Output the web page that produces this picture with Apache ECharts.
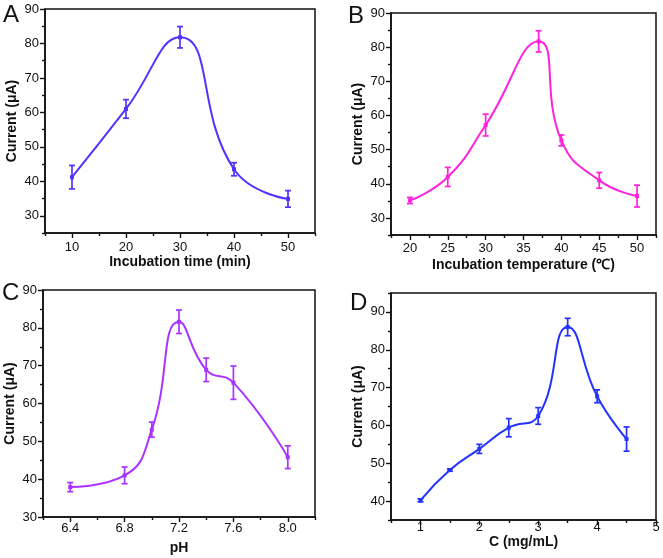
<!DOCTYPE html>
<html><head><meta charset="utf-8">
<script src="https://cdn.jsdelivr.net/npm/echarts@6/dist/echarts.min.js"></script>
<style>html,body{margin:0;padding:0;background:#fff}#c{width:663px;height:558px}</style>
</head><body><div id="c"></div>
<script>
// Panel A
const A_x = [10, 20, 30, 40, 50];
const A_y = [41.2, 61.0, 81.8, 43.5, 34.9];
const A_err = [3.4, 2.7, 3.1, 1.9, 2.4];
const A_xMajor = [10, 20, 30, 40, 50];
const A_xMinor = [5, 15, 25, 35, 45, 55];
const A_yMajor = [30, 40, 50, 60, 70, 80, 90];
const A_yMinor = [25, 35, 45, 55, 65, 75, 85];
// Panel B
const B_x = [20, 25, 30, 37, 40, 45, 50];
const B_y = [35.1, 42.0, 57.2, 81.7, 52.7, 41.0, 36.4];
const B_err = [0.9, 2.8, 3.2, 3.1, 1.6, 2.3, 3.2];
const B_xMajor = [20, 25, 30, 35, 40, 45, 50];
const B_xMinor = [17.5, 22.5, 27.5, 32.5, 37.5, 42.5, 47.5, 52.5];
const B_yMajor = [30, 40, 50, 60, 70, 80, 90];
const B_yMinor = [25, 35, 45, 55, 65, 75, 85];
// Panel C
const C_x = [6.4, 6.8, 7.0, 7.2, 7.4, 7.6, 8.0];
const C_y = [37.9, 41.0, 53.1, 81.6, 68.9, 65.5, 45.8];
const C_err = [1.2, 2.2, 2.0, 3.1, 3.1, 4.4, 3.0];
const C_xMajor = [6.4, 6.8, 7.2, 7.6, 8.0];
const C_xMinor = [6.2, 6.6, 7.0, 7.4, 7.8, 8.2];
const C_yMajor = [30, 40, 50, 60, 70, 80, 90];
const C_yMinor = [35, 45, 55, 65, 75, 85];
// Panel D
const D_x = [1, 1.5, 2, 2.5, 3, 3.5, 4, 4.5];
const D_y = [40.2, 48.2, 53.8, 59.4, 62.5, 86.0, 67.7, 56.4];
const D_err = [0.4, 0.3, 1.2, 2.4, 2.2, 2.3, 1.7, 3.2];
const D_xMajor = [1, 2, 3, 4, 5];
const D_xMinor = [0.5, 1.5, 2.5, 3.5, 4.5];
const D_yMajor = [40, 50, 60, 70, 80, 90];
const D_yMinor = [35, 45, 55, 65, 75, 85, 95];

const panels = [
  {x:A_x,y:A_y,e:A_err,xMaj:A_xMajor,xMin:A_xMinor,yMaj:A_yMajor,yMin:A_yMinor,
   xr:[5,55],yr:[25,90],color:'#5530ff',xname:'Incubation time (min)',letter:'A',
   grid:{left:45,top:9,width:270,height:224},xgap:20,xmargin:8,dec:0,lx:3,ly:3},
  {x:B_x,y:B_y,e:B_err,xMaj:B_xMajor,xMin:B_xMinor,yMaj:B_yMajor,yMin:B_yMinor,
   xr:[17.5,52.5],yr:[25,90],color:'#ff22dd',xname:'Incubation temperature (\u2103)',letter:'B',
   grid:{left:391,top:13,width:265,height:222},xgap:23,xmargin:7,dec:0,lx:348,ly:4},
  {x:C_x,y:C_y,e:C_err,xMaj:C_xMajor,xMin:C_xMinor,yMaj:C_yMajor,yMin:C_yMinor,
   xr:[6.2,8.2],yr:[30,90],color:'#aa33ff',xname:'pH',letter:'C',
   grid:{left:43,top:290,width:272,height:227},xgap:24,xmargin:5,dec:1,lx:2,ly:281},
  {x:D_x,y:D_y,e:D_err,xMaj:D_xMajor,xMin:D_xMinor,yMaj:D_yMajor,yMin:D_yMinor,
   xr:[0.5,5],yr:[35,95],color:'#2233ff',xname:'C (mg/mL)',letter:'D',
   grid:{left:391,top:293,width:265,height:227},xgap:12,xmargin:1,dec:0,lx:350,ly:291}
];

const FONT = 'Liberation Sans, Arial, sans-serif';
const grids=[], xAxes=[], yAxes=[], series=[], graphics=[];
panels.forEach((p,i)=>{
  grids.push(Object.assign({show:true,borderColor:'#111',borderWidth:1.5,backgroundColor:'#fff'},p.grid));
  const fmt = v => p.dec ? Number(v).toFixed(p.dec) : String(v);
  xAxes.push({type:'value',gridIndex:i,min:p.xr[0],max:p.xr[1],position:'bottom',
    name:p.xname,nameLocation:'middle',nameGap:p.xgap,
    nameTextStyle:{fontFamily:FONT,fontWeight:'bold',fontSize:14,color:'#111'},
    axisLine:{show:true,onZero:false,lineStyle:{color:'#111',width:1.6}},
    axisTick:{show:true,inside:false,length:5,customValues:p.xMaj,lineStyle:{color:'#111',width:1.4}},
    axisLabel:{show:true,customValues:p.xMaj,formatter:fmt,fontFamily:FONT,fontSize:13,color:'#111',margin:p.xmargin},
    splitLine:{show:false}});
  yAxes.push({type:'value',gridIndex:i,min:p.yr[0],max:p.yr[1],position:'left',
    name:'Current (\u03bcA)',nameLocation:'middle',nameGap:26,
    nameTextStyle:{fontFamily:FONT,fontWeight:'bold',fontSize:14,color:'#111'},
    axisLine:{show:true,onZero:false,lineStyle:{color:'#111',width:1.6}},
    axisTick:{show:true,inside:false,length:5,customValues:p.yMaj,lineStyle:{color:'#111',width:1.4}},
    axisLabel:{show:true,customValues:p.yMaj,fontFamily:FONT,fontSize:13,color:'#111',margin:6},
    splitLine:{show:false}});
});
panels.forEach((p,i)=>{
  xAxes.push({type:'value',gridIndex:i,min:p.xr[0],max:p.xr[1],position:'bottom',
    axisLine:{show:false},axisLabel:{show:false},splitLine:{show:false},
    axisTick:{show:true,inside:false,length:3,customValues:p.xMin,lineStyle:{color:'#111',width:1.4}}});
  yAxes.push({type:'value',gridIndex:i,min:p.yr[0],max:p.yr[1],position:'left',
    axisLine:{show:false},axisLabel:{show:false},splitLine:{show:false},
    axisTick:{show:true,inside:false,length:3,customValues:p.yMin,lineStyle:{color:'#111',width:1.4}}});
});
panels.forEach((p,i)=>{
  const pts = p.x.map((v,k)=>[v,p.y[k]]);
  series.push({type:'line',xAxisIndex:i,yAxisIndex:i,data:pts,smooth:0.5,
    symbol:'rect',symbolSize:4,showSymbol:true,
    lineStyle:{color:p.color,width:2},itemStyle:{color:p.color},z:3});
  const eb = p.x.map((v,k)=>[v,p.y[k]-p.e[k],p.y[k]+p.e[k]]);
  series.push({type:'custom',xAxisIndex:i,yAxisIndex:i,data:eb,z:4,
    renderItem:(params,api)=>{
      const lo = api.coord([api.value(0),api.value(1)]);
      const hi = api.coord([api.value(0),api.value(2)]);
      const w = 3;
      const st = {stroke:p.color,lineWidth:1.7};
      return {type:'group',children:[
        {type:'line',shape:{x1:lo[0],y1:lo[1],x2:hi[0],y2:hi[1]},style:st},
        {type:'line',shape:{x1:lo[0]-w,y1:lo[1],x2:lo[0]+w,y2:lo[1]},style:st},
        {type:'line',shape:{x1:hi[0]-w,y1:hi[1],x2:hi[0]+w,y2:hi[1]},style:st}
      ]};
    }});
  graphics.push({type:'text',left:p.lx,top:p.ly,style:{text:p.letter,fontFamily:FONT,fontSize:24,fill:'#111'}});
});

const chart = echarts.init(document.getElementById('c'),null,{renderer:'canvas'});
chart.setOption({animation:false,grid:grids,xAxis:xAxes,yAxis:yAxes,series:series,graphic:graphics});
</script></body></html>
